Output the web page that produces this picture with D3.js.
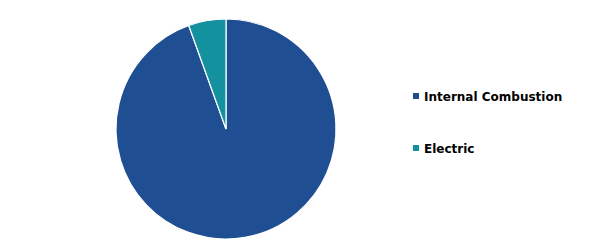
<!DOCTYPE html>
<html>
<head>
<meta charset="utf-8">
<script src="https://d3js.org/d3.v7.min.js"></script>
<style>
  body { margin: 0; background: #fff; }
  svg { display: block; }
</style>
</head>
<body>
<div id="chart"></div>
<script>
// segments and shares (%)
var categories = ["Internal Combustion", "Electric"];
var values = [94.5, 5.5];
var colors = ["#1F4E93", "#13919E"];

function renderPie() {
    var outerWidth = 610, outerHeight = 249;
    var cx = 226, cy = 129, radius = 110;

    var data = categories.map(function(c, i) { return {name: c, value: values[i]}; });

    var svg = d3.select("#chart").append("svg")
        .attr("width", outerWidth)
        .attr("height", outerHeight);

    var pie = d3.pie()
        .sort(null)
        .value(function(d) { return d.value; });

    var arc = d3.arc()
        .innerRadius(0)
        .outerRadius(radius);

    var color = d3.scaleOrdinal()
        .domain(categories)
        .range(colors);

    var g = svg.append("g")
        .attr("transform", "translate(" + cx + "," + cy + ")");

    g.selectAll(".slice")
        .data(pie(data))
        .enter().append("path")
        .attr("class", "slice")
        .attr("d", arc)
        .style("fill", function(d) { return color(d.data.name); })
        .style("stroke", "#fff")
        .style("stroke-width", 1.2);

    // legend
    var legendY = d3.scalePoint()
        .domain(categories)
        .range([96, 148]);

    var legend = svg.selectAll(".legend")
        .data(categories)
        .enter().append("g")
        .attr("class", "legend")
        .attr("transform", function(d) { return "translate(413," + legendY(d) + ")"; });

    legend.append("rect")
        .attr("x", 0)
        .attr("y", -3)
        .attr("width", 6)
        .attr("height", 6)
        .style("fill", function(d) { return color(d); });

    legend.append("text")
        .attr("x", 11)
        .attr("y", 4.7)
        .style("font-family", "'DejaVu Sans', Verdana, sans-serif")
        .style("font-weight", "bold")
        .style("font-size", "12px")
        .style("fill", "#000")
        .text(function(d) { return d; });
}

renderPie()
</script>
</body>
</html>
